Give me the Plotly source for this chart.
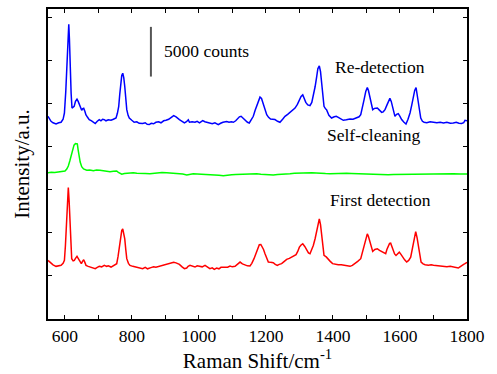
import plotly.graph_objects as go

# Raman spectra of the SERS substrate: first detection, after self-cleaning, re-detection.
# Intensities are counts above each spectrum's own baseline; curves are stacked by an offset.

redetect_shift = [
    550, 555, 559, 565, 574, 582, 589, 595, 599, 603, 606, 609, 612, 614, 616, 619, 621.6, 625, 628, 632,
    636.5, 640, 643, 647, 650.5, 653, 656.5, 660, 663, 668, 673, 680, 686, 691, 697, 703, 708, 713, 718, 723,
    730, 738, 745, 753, 757, 761, 764, 767, 770, 773, 776, 779, 782, 785, 789, 792.5, 800, 807, 815, 822,
    832.5, 840, 846, 852, 858, 865, 872, 880, 887, 895, 902, 910, 918, 925, 932, 938, 942, 950, 957, 963,
    968.6, 972, 980, 988.5, 995, 1002, 1011.5, 1018, 1025, 1033, 1040, 1048, 1058, 1065, 1072, 1083, 1090, 1097, 1103, 1110,
    1115, 1121, 1126, 1132, 1138, 1145, 1150.5, 1156, 1162.5, 1168, 1172.5, 1177, 1182.5, 1187, 1192, 1197, 1202.5, 1208, 1214, 1220,
    1227, 1235, 1242, 1250, 1257, 1265, 1272, 1280, 1287, 1294, 1300, 1305, 1310, 1315, 1319, 1325, 1331.6, 1337, 1341.5, 1347,
    1351.6, 1355, 1359.4, 1363, 1366.5, 1370, 1373.4, 1378, 1381, 1388, 1396, 1404, 1410, 1416, 1424, 1431, 1440, 1451, 1460, 1471,
    1478, 1483, 1488, 1493, 1498, 1502.6, 1506, 1510.6, 1515, 1518.7, 1524, 1532.5, 1538, 1545.5, 1550, 1555.4, 1562, 1567, 1570, 1574,
    1578, 1582, 1585, 1590, 1595, 1600, 1605, 1612, 1618, 1624, 1630, 1635, 1640, 1644, 1648, 1651, 1655, 1658, 1662, 1667,
    1672, 1680, 1690, 1700, 1710, 1720, 1730, 1740, 1750, 1759, 1768, 1776, 1784, 1790, 1794, 1800,
]
redetect_counts = [
    700, 400, 200, 50, -70, 50, 100, 400, 1030, 3200, 5700, 8400, 9970, 8400, 5700, 3000, 1530, 1600, 1700, 2200,
    2430, 2200, 1900, 1500, 1300, 1450, 1500, 1200, 870, 600, 370, 250, 50, -30, 200, 370, 250, 400, 370, 250,
    350, 300, 400, 530, 1000, 1700, 2900, 4030, 4800, 5030, 4600, 3700, 2500, 1370, 800, 530, 300, 100, 150, 0,
    -30, 50, -100, -130, 0, -50, 100, 150, 50, 250, 300, 400, 600, 770, 650, 450, 370, 200, 30, 150,
    350, 100, 150, 100, 200, 50, 270, 150, 100, 30, -50, 50, -130, 0, 100, 170, 100, 150, 100, 250,
    430, 650, 700, 500, 300, 100, 30, 300, 700, 1300, 1770, 2300, 2630, 2500, 2030, 1500, 870, 600, 430, 400,
    370, 200, 100, 400, 700, 900, 1100, 1300, 1530, 1900, 2370, 2700, 2870, 2500, 2100, 1850, 1770, 2100, 2700, 3700,
    4700, 5500, 5770, 5200, 4030, 2700, 1700, 1450, 1370, 800, 530, 650, 700, 600, 400, 300, 350, 430, 400, 530,
    650, 870, 1500, 2370, 3200, 3600, 3300, 2700, 1900, 1370, 1500, 1530, 1350, 1100, 1150, 1370, 1900, 2400, 2500, 2200,
    1700, 1100, 700, 900, 970, 700, 370, 100, -70, 400, 1030, 1800, 2700, 3300, 3600, 3000, 2030, 1300, 530, 200,
    100, 50, 150, 100, 50, 100, 30, 100, 0, 30, 100, 0, -30, 50, 300, 250,
]

cleaned_shift = [
    550, 560, 570, 580, 590, 600.7, 606, 610.6, 615, 620.7, 624, 627.6, 632, 637.5, 640, 643, 646, 650.5, 656, 665.5,
    675, 685, 695, 705, 715, 725, 735, 745, 755, 760, 765, 770, 778, 790, 804.5, 815, 828, 840, 854, 866,
    878, 890, 904, 915, 928, 940, 952, 964, 975, 983.5, 995, 1010, 1023, 1035, 1048, 1060, 1073, 1085, 1098, 1110,
    1123, 1135, 1148, 1160, 1172.6, 1185, 1197, 1210, 1222, 1235, 1247, 1260, 1272, 1285, 1298, 1310, 1324, 1337, 1350, 1363,
    1378, 1391, 1404, 1417, 1430, 1441, 1455, 1470, 1486, 1501, 1515, 1530, 1550, 1565, 1580, 1600, 1620, 1640, 1660, 1680,
    1700, 1719, 1740, 1760, 1780, 1800,
]
cleaned_counts = [
    30, 80, 50, 100, 150, 200, 400, 700, 1200, 1900, 2400, 2800, 2950, 2930, 2300, 1530, 1100, 630, 400, 270,
    300, 230, 300, 270, 200, 180, 130, 170, 200, 50, -50, -130, -50, 0, 30, -20, 0, -50, -70, -20,
    0, 50, 30, 0, -50, -20, -100, -200, -130, -70, -100, -120, -130, -160, -200, -230, -270, -200, -180, -150,
    -130, -120, -100, -80, -70, -120, -170, -160, -200, -150, -100, -80, -70, -30, 0, 0, 20, 30, 0, -50,
    -60, -70, -50, -30, -50, -30, -50, -70, -60, -70, -100, -150, -200, -180, -150, -140, -130, -100, -80, -80,
    -70, -70, -80, -90, -100, -100,
]

first_shift = [
    550, 555, 559, 565, 574, 582, 589, 595, 599, 602, 604.6, 608, 610.6, 613, 615.6, 618, 620.7, 625, 628.5, 632,
    636.5, 640, 643.5, 649.5, 653, 656.5, 660, 663.4, 670, 678.3, 685, 691, 697, 703, 710, 718, 725, 730, 738, 745,
    750, 755, 759, 762.7, 765, 767.8, 770, 773, 776, 779, 782, 785, 790, 794.6, 803, 812.5, 822, 832.5, 840, 847,
    857, 865, 872, 882, 890, 898, 907, 916, 925, 932, 942, 950, 957, 963.8, 968, 973.6, 980, 988.5, 995, 1003.5,
    1010, 1018.4, 1025, 1033, 1040, 1046, 1053, 1060, 1066, 1073, 1080, 1086, 1093, 1100, 1108, 1115, 1119, 1123, 1130, 1138,
    1145, 1152.6, 1158, 1164.6, 1168, 1172.6, 1176, 1180.4, 1185, 1188.4, 1193, 1197.4, 1202, 1207.3, 1214, 1222, 1228, 1234, 1240, 1247,
    1255, 1262, 1270, 1277, 1283, 1290, 1295, 1300, 1305, 1310, 1316, 1322, 1327, 1331.6, 1336, 1341.5, 1347, 1351.6, 1355, 1359.4,
    1363, 1366.5, 1370, 1373.4, 1380, 1386, 1392, 1399, 1407, 1416, 1425, 1436, 1444, 1451, 1458, 1466, 1474, 1483, 1488, 1493,
    1498, 1502.6, 1506, 1510.6, 1515, 1518.7, 1525, 1532.5, 1539, 1545.5, 1551, 1557.4, 1561, 1565.4, 1569, 1572.3, 1576, 1580.3, 1584, 1588.2,
    1593, 1598, 1603, 1608, 1614, 1620, 1626, 1632, 1636, 1640, 1644, 1647, 1651, 1655, 1659, 1663, 1669, 1675, 1685, 1693,
    1700, 1710, 1720, 1730, 1740, 1750, 1759, 1766, 1774, 1779, 1784, 1790, 1794, 1800,
]
first_counts = [
    800, 650, 530, 350, 200, 250, 300, 500, 800, 2300, 4130, 6800, 8130, 6800, 4130, 2100, 970, 750, 800, 1000,
    1200, 1000, 800, 470, 700, 870, 600, 300, 200, 130, 50, -30, 100, 200, 150, 300, 200, 250, 130, 250,
    350, 470, 1200, 2130, 2800, 3470, 3800, 3970, 3600, 2970, 1900, 970, 500, 300, 200, 130, 50, -30, 100, -50,
    70, 150, 100, 200, 300, 350, 470, 500, 600, 550, 400, 150, -30, 30, 200, 300, 200, 130, 250, 230,
    150, 300, 150, -30, 50, -100, 30, -50, 100, 100, 150, 120, 230, 150, 200, 400, 600, 630, 450, 300,
    250, 230, 500, 970, 1300, 1630, 2000, 2370, 2400, 2230, 1900, 1470, 1000, 630, 600, 570, 400, 300, 400, 470,
    700, 900, 1000, 1130, 1200, 1370, 1700, 2130, 2350, 2470, 2200, 1800, 1550, 1470, 1800, 2300, 3000, 3630, 4400, 4970,
    4400, 3300, 2100, 1300, 1150, 970, 700, 470, 400, 370, 350, 300, 250, 200, 300, 470, 700, 970, 1600, 2300,
    3100, 3470, 3200, 2630, 2100, 1700, 1900, 1970, 1800, 1700, 1550, 1470, 1900, 2300, 2500, 2530, 2200, 1630, 1450, 1300,
    1500, 1630, 1400, 1130, 850, 630, 800, 1130, 1800, 2630, 3400, 3700, 3100, 2130, 1300, 630, 450, 370, 320, 350,
    300, 250, 220, 200, 150, 200, 130, 100, 30, 150, 300, 400, 470, 600,
]

# vertical stacking offsets (counts)
offsets = {"Re-detection": 19700, "Self-cleaning": 14700, "First detection": 5100}
colors = {"Re-detection": "#0000FF", "Self-cleaning": "#00FF00", "First detection": "#FF0000"}

series = [
    ("Re-detection", redetect_shift, redetect_counts),
    ("Self-cleaning", cleaned_shift, cleaned_counts),
    ("First detection", first_shift, first_counts),
]

# curve labels: (text, shift, height in counts)
labels = [
    ("Re-detection", 1540, 25350),
    ("Self-cleaning", 1522, 18500),
    ("First detection", 1542, 12000),
]

scale_bar_counts = 5000
scale_bar_shift = 857
scale_bar_base = 24400

x_tick_vals = [600, 800, 1000, 1200, 1400, 1600, 1800]
serif = "Liberation Serif"

fig = go.Figure()
for name, xs, ys in series:
    off = offsets[name]
    fig.add_trace(go.Scatter(
        x=xs, y=[v + off for v in ys], mode="lines", name=name,
        line=dict(color=colors[name], width=1.5), showlegend=False,
    ))

for text, xs, ys in labels:
    fig.add_annotation(x=xs, y=ys, text=text, showarrow=False,
                       font=dict(family=serif, size=17.5, color="black"),
                       xanchor="center", yanchor="middle")

# 5000-count scale bar
fig.add_shape(type="line", x0=scale_bar_shift, x1=scale_bar_shift,
              y0=scale_bar_base, y1=scale_bar_base + scale_bar_counts,
              line=dict(color="#555555", width=2))
fig.add_annotation(x=scale_bar_shift + 32, y=scale_bar_base + 2600, text=f"{scale_bar_counts} counts",
                   showarrow=False, xanchor="left", yanchor="middle",
                   font=dict(family=serif, size=17.5, color="black"))

axis_common = dict(showline=True, linecolor="black", linewidth=1.6, mirror="ticks",
                   ticks="inside", ticklen=4, tickwidth=1.2, tickcolor="black",
                   showgrid=False, zeroline=False)

fig.update_xaxes(range=[550, 1800], tickvals=x_tick_vals, ticktext=[str(v) for v in x_tick_vals],
                 minor=dict(dtick=100, tick0=0, ticks="inside", ticklen=4, tickcolor="black", tickwidth=1.2),
                 tickfont=dict(family=serif, size=17.5, color="black"),
                 title=dict(text="Raman Shift/cm<sup>-1</sup>", font=dict(family=serif, size=21, color="black"),
                            standoff=4),
                 **axis_common)
fig.update_yaxes(range=[0, 31200], tick0=0, dtick=4330, showticklabels=False,
                 title=dict(text="Intensity/a.u.", font=dict(family=serif, size=21, color="black"),
                            standoff=11),
                 **axis_common)

fig.update_layout(width=497, height=374, margin=dict(l=48, r=30, t=7, b=55),
                  paper_bgcolor="white", plot_bgcolor="white",
                  font=dict(family=serif, color="black"))

fig.write_html("out.html")
